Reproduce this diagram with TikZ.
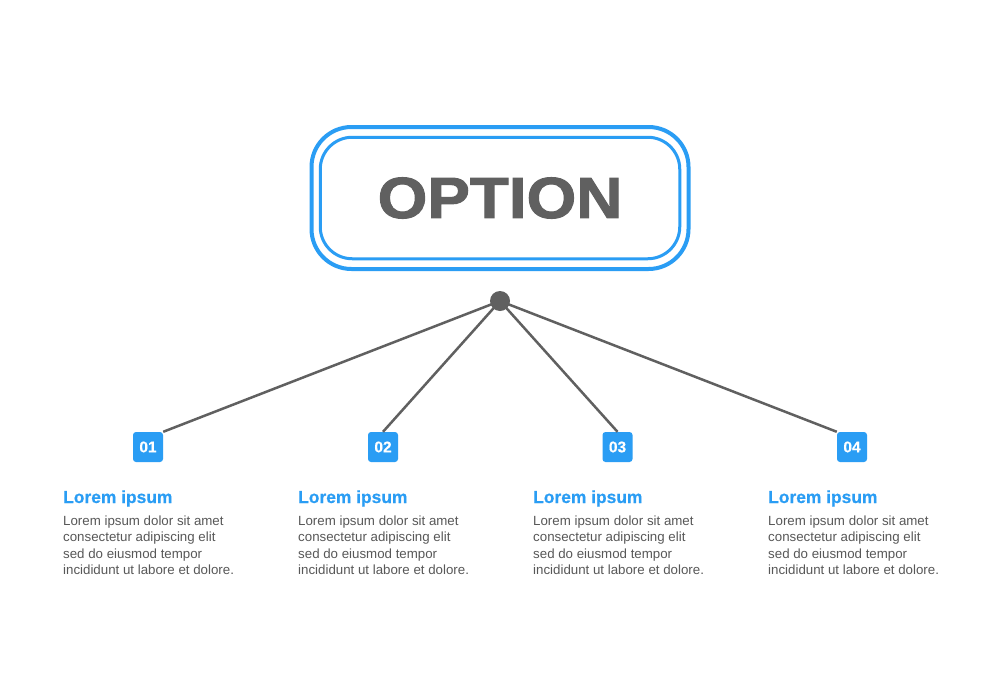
\documentclass[tikz,border=0pt]{standalone}
\usepackage{fontspec}
\setmainfont{Liberation Sans}
\newfontfamily\optionfont{Liberation Sans}[FakeStretch=1.1,FakeBold=1.8]
\newfontfamily\headfont{Liberation Sans}[FakeBold=0.4]
\definecolor{optblue}{RGB}{42,157,244}
\definecolor{optgray}{RGB}{96,96,96}
\definecolor{txtgray}{RGB}{88,88,88}
\tikzset{
  numbox/.style={fill=optblue, rounded corners=3pt, minimum size=30pt, inner sep=0pt,
    text=white, font=\headfont\bfseries\fontsize{15.5}{15.5}\selectfont},
  title/.style={anchor=base west, inner sep=0pt, text=optblue,
    font=\headfont\bfseries\fontsize{17.4}{20}\selectfont},
  body/.style={anchor=north west, inner sep=0pt, align=left, text=txtgray,
    font=\fontsize{13.3}{16.5}\selectfont},
  link/.style={draw=optgray, line width=2.5pt}
}
\begin{document}
\begin{tikzpicture}[x=1pt,y=-1pt]
      \useasboundingbox[fill=white] (0,0) rectangle (1000,699);
      \node[draw=optblue, line width=4pt, rounded corners=40pt,
        minimum width=377pt, minimum height=142pt] (option) at (500,198) {};
      \node[draw=optblue, line width=3pt, rounded corners=32pt,
        minimum width=359.5pt, minimum height=121.5pt, text=optgray,
        font=\optionfont\bfseries\fontsize{58}{58}\selectfont] (optiontext) at (500,198) {OPTION};
      \node[numbox] (n1) at (148,447) {01};
      \node[numbox] (n2) at (383,447) {02};
      \node[numbox] (n3) at (617.5,447) {03};
      \node[numbox] (n4) at (852,447) {04};
      \begin{scope}[link]
        \draw (500,301) to (n1.north east);
        \draw (500,301) to (n2.north);
        \draw (500,301) to (n3.north);
        \draw (500,301) to (n4.north west);
      \end{scope}
      \node[circle, fill=optgray, minimum size=20pt, inner sep=0pt] (hub) at (500,301) {};
      \node[title] (t1) at (63,503) {Lorem ipsum};
      \node[title] (t2) at (298,503) {Lorem ipsum};
      \node[title] (t3) at (533,503) {Lorem ipsum};
      \node[title] (t4) at (768,503) {Lorem ipsum};
      \node[body] (b1) at (63,515.3) {Lorem ipsum dolor sit amet\\consectetur adipiscing elit\\sed do eiusmod tempor\\incididunt ut labore et dolore.};
      \node[body] (b2) at (298,515.3) {Lorem ipsum dolor sit amet\\consectetur adipiscing elit\\sed do eiusmod tempor\\incididunt ut labore et dolore.};
      \node[body] (b3) at (533,515.3) {Lorem ipsum dolor sit amet\\consectetur adipiscing elit\\sed do eiusmod tempor\\incididunt ut labore et dolore.};
      \node[body] (b4) at (768,515.3) {Lorem ipsum dolor sit amet\\consectetur adipiscing elit\\sed do eiusmod tempor\\incididunt ut labore et dolore.};
    \end{tikzpicture}
\end{document}
